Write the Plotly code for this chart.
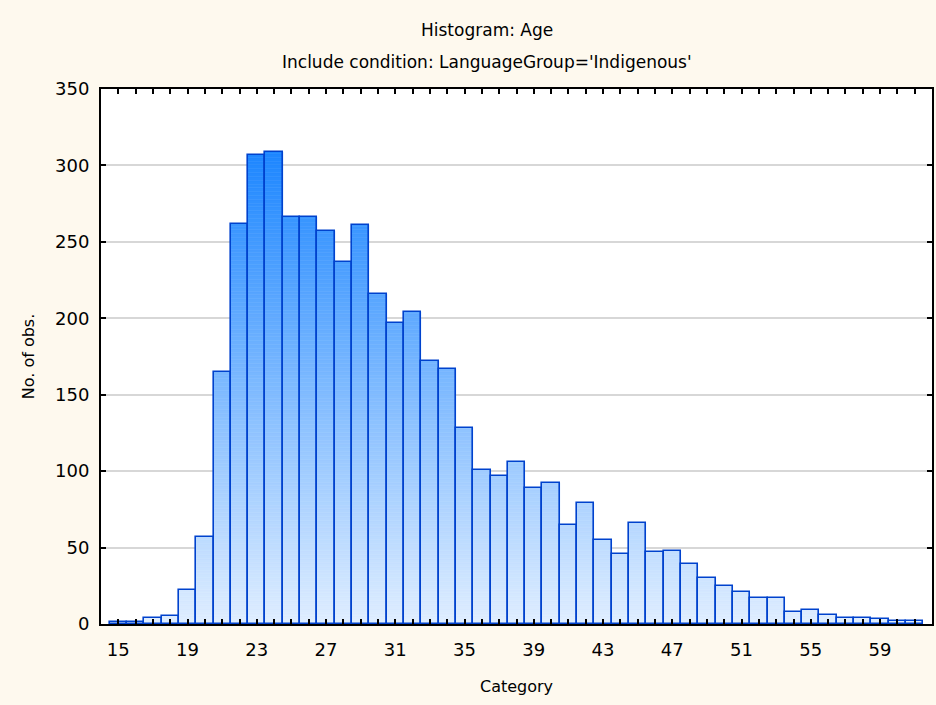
import plotly.graph_objects as go

categories = list(range(15, 62))
counts = [1, 1, 4, 5, 22, 57, 165, 262, 307, 309, 266, 266, 257, 237, 261, 216,
          197, 204, 172, 167, 128, 101, 97, 106, 89, 92, 65, 79, 55, 46, 66, 47,
          48, 39, 30, 25, 21, 17, 17, 8, 9, 6, 4, 4, 3, 2, 2]
x_tick_labels = [str(c) if (c - 15) % 4 == 0 else "" for c in categories]
title_text = "Histogram: Age"
subtitle_text = "Include condition: LanguageGroup='Indigenous'"

top_rgb = (28, 134, 255)
bot_rgb = (224, 238, 255)
grad_top = 310.0
step = 2.5

seg_x, seg_base, seg_h, seg_col = [], [], [], []
for c, v in zip(categories, counts):
    b = 0.0
    while b < v:
        h = min(step, v - b)
        f = min(1.0, (b + h / 2) / grad_top)
        col = tuple(round(bot_rgb[i] + (top_rgb[i] - bot_rgb[i]) * f) for i in range(3))
        seg_x.append(c)
        seg_base.append(b)
        seg_h.append(h)
        seg_col.append("rgb(%d,%d,%d)" % col)
        b += step

fig = go.Figure()
fig.add_trace(go.Bar(
    x=seg_x, y=seg_h, base=seg_base, width=1.0,
    marker=dict(color=seg_col, line=dict(color=seg_col, width=0.6)),
    hoverinfo="skip", showlegend=False,
))
fig.add_trace(go.Bar(
    x=categories, y=counts, width=1.0,
    marker=dict(color="rgba(0,0,0,0)", line=dict(color="rgb(0,66,205)", width=1.6)),
    showlegend=False,
))

font = "DejaVu Sans, Arial, sans-serif"
fig.update_layout(
    width=936, height=705,
    barmode="overlay", bargap=0,
    paper_bgcolor="#fef9ee", plot_bgcolor="white",
    margin=dict(l=101, r=4, t=89, b=81, autoexpand=False),
    font=dict(family=font, size=17, color="black"),
    xaxis=dict(
        range=[14, 62], tickmode="array", tickvals=categories, ticktext=x_tick_labels,
        ticks="inside", ticklen=5, tickwidth=1.5, tickcolor="black",
        showline=True, linecolor="black", linewidth=2, mirror="ticks",
        showgrid=False, zeroline=False, ticklabelstandoff=8,
        title=dict(text="Category", font=dict(size=16), standoff=22),
        tickfont=dict(size=18), automargin=False,
    ),
    yaxis=dict(
        range=[0, 350], tickmode="linear", tick0=0, dtick=50,
        ticks="inside", ticklen=5, tickwidth=1.5, tickcolor="black",
        showline=True, linecolor="black", linewidth=2, mirror="ticks",
        showgrid=True, gridcolor="rgb(215,215,215)", gridwidth=2, zeroline=False,
        ticklabelstandoff=6,
        title=dict(text="No. of obs.", font=dict(size=16), standoff=16),
        tickfont=dict(size=18), automargin=False,
    ),
    annotations=[
        dict(text=title_text, xref="paper", yref="paper", x=0.465, y=1, yshift=59,
             showarrow=False, font=dict(size=17), xanchor="center", yanchor="middle"),
        dict(text=subtitle_text, xref="paper", yref="paper", x=0.465, y=1, yshift=27,
             showarrow=False, font=dict(size=17), xanchor="center", yanchor="middle"),
    ],
)

fig.write_html("out.html", config={"displayModeBar": False},
               post_script="document.body.style.margin='0px';")
